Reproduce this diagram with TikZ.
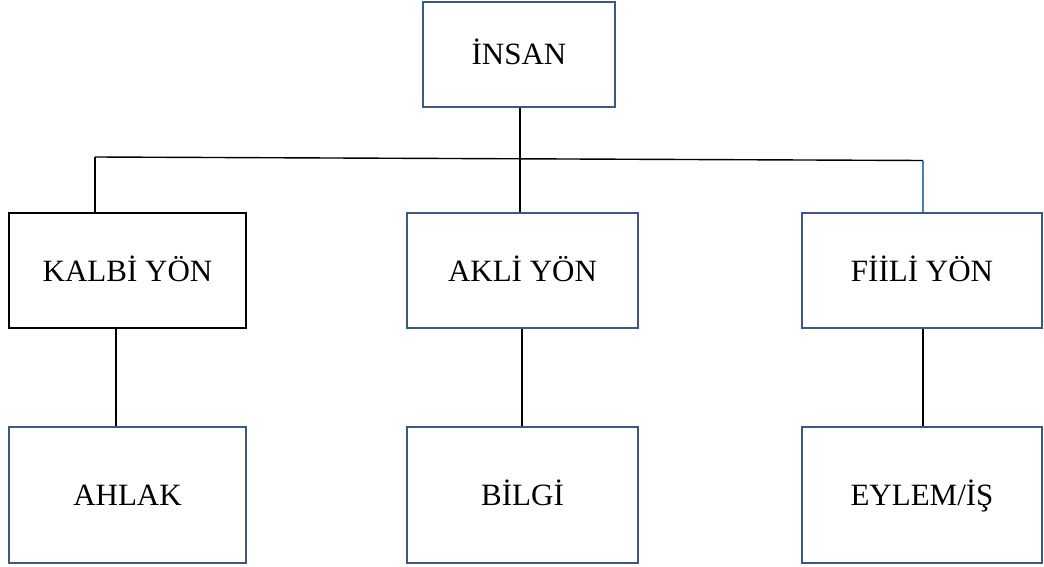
\documentclass[tikz,border=0pt]{standalone}
\usepackage{fontspec}
\setmainfont{Liberation Serif}
\definecolor{boxline}{HTML}{3A5A84}
\definecolor{linkblue}{HTML}{4A7EBB}
\begin{document}
\begin{tikzpicture}[x=1pt,y=-1pt,
  box/.style={draw=boxline,line width=1.4pt,rectangle,inner sep=0pt,
    text height=21pt,text depth=0pt,
    font=\fontsize{31}{36}\selectfont},
  link/.style={draw=black,line width=1.4pt}]
  \useasboundingbox (0,0) rectangle (1044,567);
  % top node
  \node[box,minimum width=192pt,minimum height=105pt] (insan) at (519,54.5) {İNSAN};
  % middle row
  \node[box,draw=black,minimum width=237pt,minimum height=115pt] (kalbi) at (127.5,270.5) {KALBİ YÖN};
  \node[box,minimum width=231pt,minimum height=115pt] (akli) at (522.5,270.5) {AKLİ YÖN};
  \node[box,minimum width=240pt,minimum height=115pt] (fiili) at (922,270.5) {FİİLİ YÖN};
  % bottom row
  \node[box,minimum width=237pt,minimum height=136pt] (ahlak) at (127.5,495) {AHLAK};
  \node[box,minimum width=231pt,minimum height=136pt] (bilgi) at (522.5,495) {BİLGİ};
  \node[box,minimum width=240pt,minimum height=136pt] (eylem) at (922,495) {EYLEM/İŞ};
  % branching bar
  \coordinate (hl) at (95,157);
  \coordinate (hr) at (923,160.5);
  \coordinate (hm) at (520,158);
  \draw[link] (hl) -- (hr);
  \draw[link] (insan.south -| hm) -- (akli.north -| hm);
  \draw[link] (hl) -- (kalbi.north -| hl);
  \draw[draw=linkblue,line width=1.4pt] (hr) -- (fiili.north -| hr);
  % lower links
  \coordinate (l1) at (116,0);
  \coordinate (l2) at (522,0);
  \coordinate (l3) at (923,0);
  \draw[link] (kalbi.south -| l1) -- (ahlak.north -| l1);
  \draw[link] (akli.south -| l2) -- (bilgi.north -| l2);
  \draw[link] (fiili.south -| l3) -- (eylem.north -| l3);
\end{tikzpicture}
\end{document}
